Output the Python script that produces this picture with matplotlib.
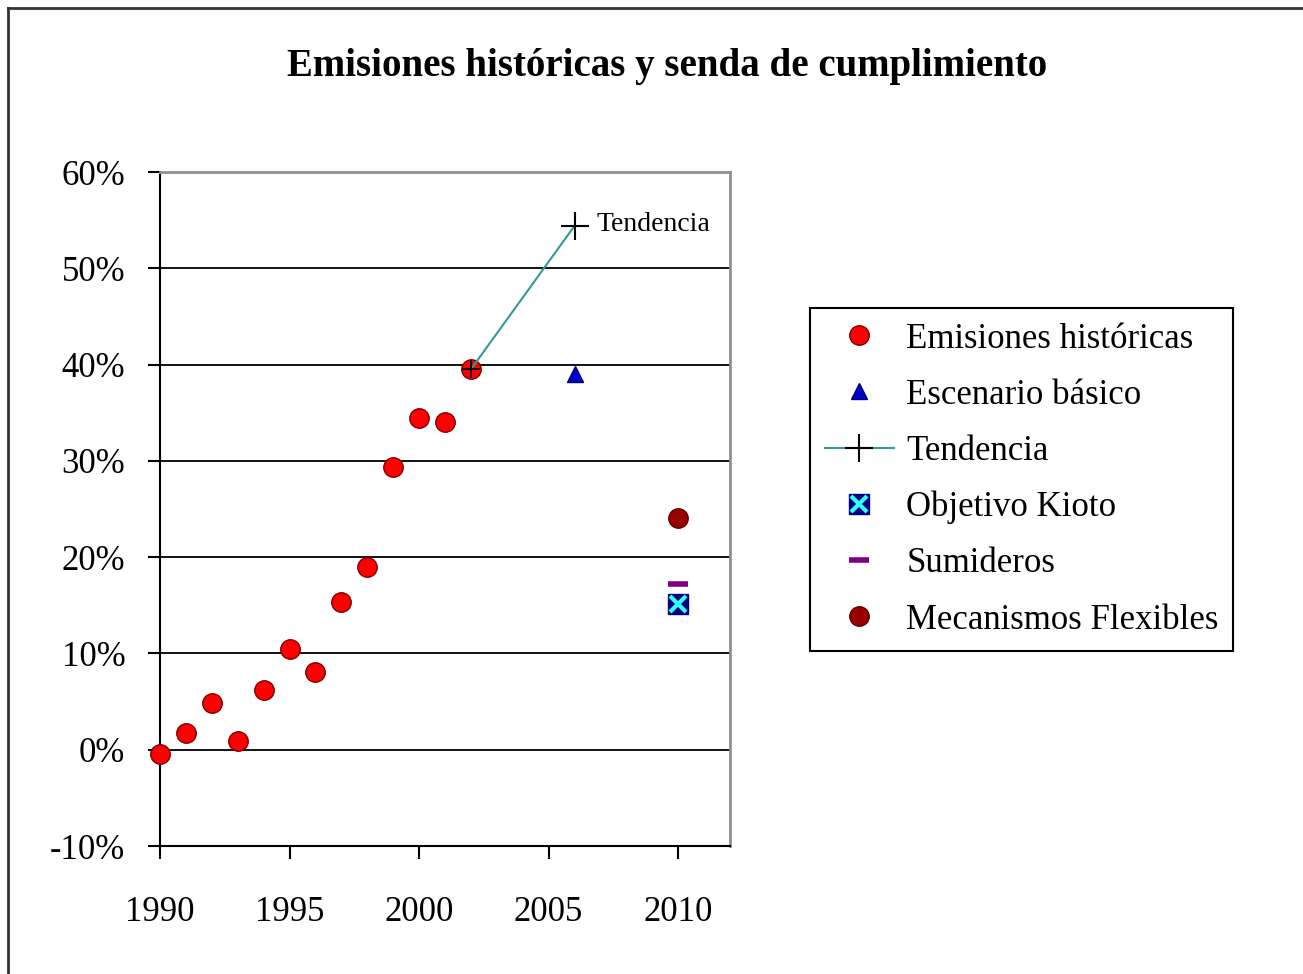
import matplotlib.pyplot as plt
from matplotlib.lines import Line2D
from matplotlib.ticker import FuncFormatter

plt.rcParams['font.family'] = 'Liberation Serif'
plt.rcParams['axes.unicode_minus'] = False

# historical emissions (% over 1990)
years = [1990, 1991, 1992, 1993, 1994, 1995, 1996, 1997, 1998, 1999, 2000, 2001, 2002]
emissions = [-0.4, 1.7, 4.9, 0.9, 6.2, 10.5, 8.1, 15.3, 19.0, 29.4, 34.5, 34.0, 39.5]

basic_year = [2006]
basic_val = [39.0]

trend_years = [2002, 2006]
trend_vals = [39.5, 54.4]

target_year = [2010]
kyoto_val = [15.1]
sinks_val = [17.2]
flex_val = [24.1]

fig = plt.figure(figsize=(13.03, 9.74), dpi=100)
ax = fig.add_axes([0.1228, 0.1314, 0.4374, 0.692])

ax.set_xlim(1990, 2012)
ax.set_ylim(-10, 60)
ax.set_yticks(range(-10, 61, 10))
ax.set_xticks(range(1990, 2011, 5))
ax.yaxis.set_major_formatter(FuncFormatter(lambda v, p: '%d%%' % v))
ax.grid(axis='y', color='black', linewidth=1.3)
ax.set_axisbelow(True)

for s in ['top', 'right']:
    ax.spines[s].set_color('#909090')
    ax.spines[s].set_linewidth(2)
for s in ['left', 'bottom']:
    ax.spines[s].set_linewidth(1.5)

ax.tick_params(axis='y', direction='out', length=9, width=1.5, pad=16, labelsize=25)
ax.tick_params(axis='x', direction='out', length=9, width=1.5, pad=27, labelsize=25)

h_em, = ax.plot(years, emissions, 'o', ms=14, mfc='#ff0000', mec='#800000',
                mew=1, clip_on=False, zorder=3, label='Emisiones históricas')
h_bas, = ax.plot(basic_year, basic_val, '^', ms=12, mfc='#0000cc', mec='#000080',
                 ls='none', zorder=3, label='Escenario básico')
ax.plot(trend_years, trend_vals, '-', color='#339999', lw=1.5, zorder=4)
ax.plot(trend_years[:1], trend_vals[:1], '+', ms=13, mec='black', mew=1.3, zorder=5)
ax.plot(trend_years[1:], trend_vals[1:], '+', ms=20, mec='black', mew=1.5, zorder=5)
h_tr = Line2D([], [], color='#339999', lw=1.5, marker='+', ms=20, mec='black', mew=1.5)
ax.plot(target_year, kyoto_val, 's', ms=15, mfc='#000080', mec='#000080', zorder=3)
ax.plot(target_year, kyoto_val, 'x', ms=11, mec='#33ffff', mew=3, zorder=4)
h_sum, = ax.plot(target_year, sinks_val, '_', ms=14, mec='#800080', mew=4,
                 ls='none', zorder=3, label='Sumideros')
h_flex, = ax.plot(target_year, flex_val, 'o', ms=14, mfc='#990000', mec='#660000',
                  ls='none', zorder=3, label='Mecanismos Flexibles')

ax.annotate('Tendencia', (trend_years[1], trend_vals[1]), xytext=(16, 1),
            textcoords='offset points', va='center', fontsize=20)

k_sq = Line2D([], [], marker='s', ms=15, mfc='#000080', mec='#000080', ls='none')
k_x = Line2D([], [], marker='x', ms=11, mec='#33ffff', mew=3, ls='none')

handles = [h_em, h_bas, h_tr, (k_sq, k_x), h_sum, h_flex]
labels = ['Emisiones históricas', 'Escenario básico', 'Tendencia',
          'Objetivo Kioto', 'Sumideros', 'Mecanismos Flexibles']
leg = fig.legend(handles, labels, loc='upper left', bbox_to_anchor=(0.6216, 0.6838),
                 fontsize=25, frameon=True, fancybox=False, edgecolor='black',
                 framealpha=1, labelspacing=0.665, handlelength=2.0, handletextpad=0.35,
                 borderpad=0.42, borderaxespad=0)
leg.get_frame().set_linewidth(1.5)

fig.text(0.512, 0.932, 'Emisiones históricas y senda de cumplimiento',
         ha='center', va='center', fontsize=28, fontweight='bold')

# outer chart frame
fx = 8 / 1303
fy = 1 - 8 / 974
fig.add_artist(Line2D([fx, fx], [0, fy], color='#333333', lw=2, transform=fig.transFigure))
fig.add_artist(Line2D([fx, 1], [fy, fy], color='#333333', lw=2, transform=fig.transFigure))

fig.savefig('out.png', dpi=100)
